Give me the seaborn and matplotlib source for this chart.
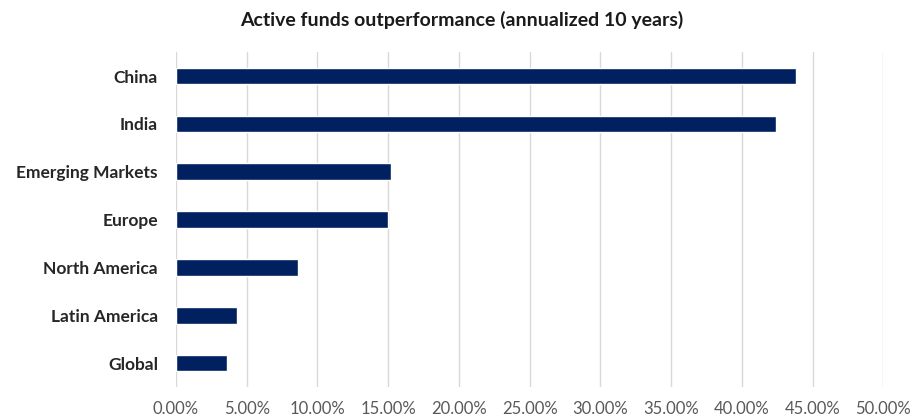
import matplotlib
matplotlib.use("Agg")
import matplotlib.pyplot as plt
import seaborn as sns
import pandas as pd
from matplotlib.ticker import FuncFormatter

categories = ["China", "India", "Emerging Markets", "Europe", "North America", "Latin America", "Global"]
values = [43.8, 42.4, 15.2, 15.0, 8.65, 4.3, 3.6]
xticks = [0, 5, 10, 15, 20, 25, 30, 35, 40, 45, 50]

sns.set_theme(style="white")
plt.rcParams['font.family'] = ['Lato', 'DejaVu Sans']

df = pd.DataFrame({"region": categories, "value": values})

fig = plt.figure(figsize=(9.23, 4.17), dpi=100)
ax = fig.add_axes([0.1907, 0.072, 0.957 - 0.1907, 0.803])
sns.barplot(data=df, x="value", y="region", orient="h", color="#002060",
            width=0.35, saturation=1, ax=ax, zorder=3)

ax.set_xlim(0, 50)
ax.set_xticks(xticks)
ax.xaxis.set_major_formatter(FuncFormatter(lambda v, p: f"{v:.2f}%"))
ax.grid(axis="x", color="#d9d9d9", linewidth=1, zorder=0)
ax.grid(axis="y", visible=False)
for s in ax.spines.values():
    s.set_visible(False)
ax.set_xlabel("")
ax.set_ylabel("")
ax.tick_params(axis="x", length=0, pad=10, labelsize=12, labelcolor="#595959")
ax.tick_params(axis="y", length=0, pad=13, labelsize=12.5, labelcolor="#262626")
for lab in ax.get_yticklabels():
    lab.set_fontweight("bold")
fig.suptitle("Active funds outperformance (annualized 10 years)", x=0.5, y=0.975,
             fontsize=14, fontweight="bold", color="#1a1a1a")
fig.savefig("out.png", dpi=100)
